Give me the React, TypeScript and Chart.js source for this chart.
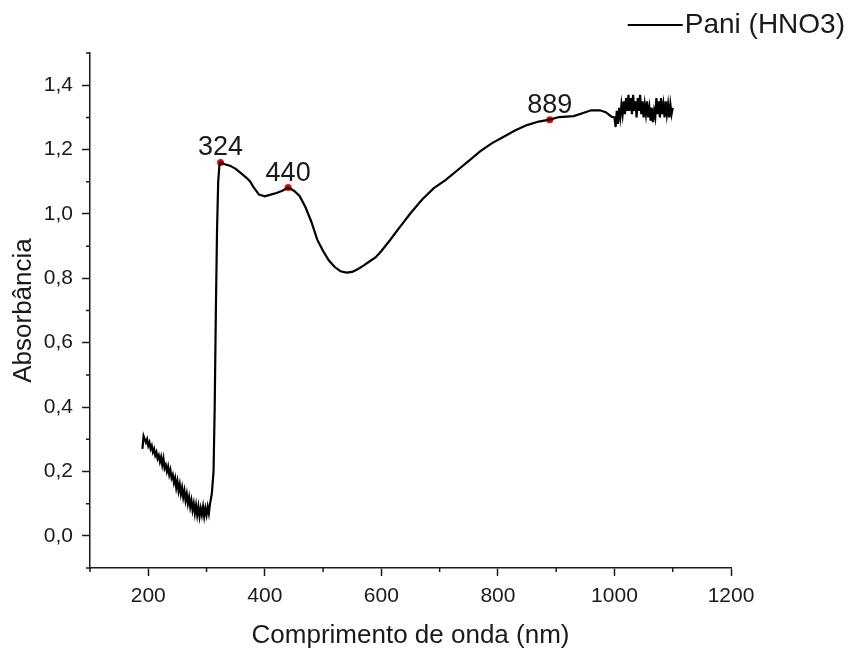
import React, { useEffect, useRef } from 'react';
import { Chart, registerables } from 'chart.js';

Chart.register(...registerables);

// ---- Data ----
const wavelengths = [
  190, 192, 194, 196, 198, 200, 202, 204, 206, 208, 210, 212, 214, 216, 218, 220, 222, 224, 226, 228,
  230, 232, 234, 236, 238, 240, 242, 244, 246, 248, 250, 252, 254, 256, 258, 260, 262, 264, 266, 268,
  270, 272, 274, 276, 278, 280, 282, 284, 286, 288, 290, 292, 294, 296, 298, 300, 302, 304, 306, 309,
  312, 314, 316, 318, 320, 322, 324, 330, 340, 350, 360, 370, 375, 380, 390, 400, 410, 420, 430, 440,
  450, 460, 470, 480, 490, 500, 510, 520, 530, 540, 550, 560, 570, 580, 590, 600, 615, 630, 650, 670,
  690, 710, 730, 750, 770, 790, 810, 830, 850, 870, 889, 905, 930, 945, 960, 975, 985, 995, 1000,
  1002, 1004, 1006, 1008, 1010, 1012, 1014, 1016, 1018, 1020, 1022, 1024, 1026, 1028, 1030, 1032, 1034,
  1036, 1038, 1040, 1042, 1044, 1046, 1048, 1050, 1052, 1054, 1056, 1058, 1060, 1062, 1064, 1066, 1068,
  1070, 1072, 1074, 1076, 1078, 1080, 1082, 1084, 1086, 1088, 1090, 1092, 1094, 1096, 1098, 1100,
];

const absorbance = [
  0.27, 0.31, 0.30, 0.29, 0.30, 0.28, 0.29, 0.27, 0.28, 0.26, 0.27, 0.25, 0.26, 0.24, 0.25, 0.23, 0.245, 0.22, 0.24, 0.21,
  0.22, 0.20, 0.215, 0.19, 0.205, 0.18, 0.19, 0.165, 0.18, 0.15, 0.17, 0.14, 0.16, 0.13, 0.15, 0.12, 0.14, 0.11, 0.13, 0.10,
  0.12, 0.09, 0.11, 0.08, 0.10, 0.07, 0.095, 0.065, 0.09, 0.06, 0.085, 0.065, 0.09, 0.06, 0.085, 0.065, 0.09, 0.07, 0.10, 0.13,
  0.20, 0.40, 0.70, 0.95, 1.10, 1.15, 1.16, 1.155, 1.15, 1.14, 1.125, 1.11, 1.10, 1.085, 1.06, 1.055, 1.06, 1.065, 1.072, 1.082,
  1.072, 1.055, 1.02, 0.975, 0.92, 0.885, 0.855, 0.835, 0.822, 0.818, 0.82, 0.829, 0.84, 0.853, 0.865, 0.885, 0.919, 0.955, 1.002, 1.045,
  1.08, 1.105, 1.135, 1.165, 1.195, 1.22, 1.24, 1.26, 1.276, 1.287, 1.293, 1.301, 1.304, 1.313, 1.322, 1.322, 1.316, 1.302, 1.30,
  1.27, 1.32, 1.28, 1.33, 1.30, 1.34, 1.31, 1.35, 1.31, 1.36, 1.32, 1.37, 1.32, 1.36, 1.31, 1.37, 1.32,
  1.35, 1.30, 1.36, 1.32, 1.37, 1.31, 1.35, 1.30, 1.34, 1.31, 1.35, 1.30, 1.33, 1.29, 1.33, 1.285, 1.32,
  1.30, 1.36, 1.31, 1.35, 1.30, 1.36, 1.31, 1.34, 1.30, 1.35, 1.31, 1.34, 1.30, 1.34, 1.31, 1.33,
];

const peakWavelengths = [324, 440, 889];
const peakAbsorbance = [1.16, 1.082, 1.293];
const peakLabels = ['324', '440', '889'];

const xTickValues = [200, 400, 600, 800, 1000, 1200];
const yTickValues = [0, 0.2, 0.4, 0.6, 0.8, 1.0, 1.2, 1.4];
const xMinorTickValues = [100, 300, 500, 700, 900, 1100];
const yMinorTickValues = [-0.1, 0.1, 0.3, 0.5, 0.7, 0.9, 1.1, 1.3, 1.5];

const seriesLabel = 'Pani (HNO3)';
const xTitle = 'Comprimento de onda (nm)';
const yTitle = 'Absorbância';

const FONT = '"Liberation Sans", Arial, Helvetica, sans-serif';
const INK = '#1a1a1a';

const overlayPlugin = {
  id: 'overlay',
  afterDraw(chart: any) {
    const ctx = chart.ctx;
    const xs = chart.scales.x;
    const ys = chart.scales.y;
    ctx.save();
    // minor ticks
    ctx.strokeStyle = INK;
    ctx.lineWidth = 1.5;
    ctx.beginPath();
    for (const v of yMinorTickValues) {
      const py = ys.getPixelForValue(v);
      ctx.moveTo(xs.left - 4, py);
      ctx.lineTo(xs.left, py);
    }
    for (const v of xMinorTickValues) {
      const px = xs.getPixelForValue(v);
      ctx.moveTo(px, ys.bottom);
      ctx.lineTo(px, ys.bottom + 4);
    }
    ctx.stroke();

    // peak labels
    const meta = chart.getDatasetMeta(1);
    ctx.fillStyle = INK;
    ctx.font = `27px ${FONT}`;
    ctx.textAlign = 'center';
    ctx.textBaseline = 'alphabetic';
    meta.data.forEach((pt: any, i: number) => {
      ctx.fillText(peakLabels[i], pt.x, pt.y - 7);
    });

    // legend
    ctx.font = `28px ${FONT}`;
    ctx.textAlign = 'right';
    ctx.textBaseline = 'middle';
    const textRight = chart.width - 6;
    const legendY = 25;
    ctx.fillText(seriesLabel, textRight, legendY);
    const tw = ctx.measureText(seriesLabel).width;
    const lineEnd = textRight - tw - 2;
    ctx.strokeStyle = '#000';
    ctx.lineWidth = 2;
    ctx.beginPath();
    ctx.moveTo(lineEnd - 55, legendY);
    ctx.lineTo(lineEnd, legendY);
    ctx.stroke();
    ctx.restore();
  },
};

export default function App() {
  const canvasRef = useRef<HTMLCanvasElement | null>(null);

  useEffect(() => {
    if (!canvasRef.current) return;
    const spectrum = wavelengths.map((w, i) => ({ x: w, y: absorbance[i] }));
    const peaks = peakWavelengths.map((w, i) => ({ x: w, y: peakAbsorbance[i] }));

    const chart = new Chart(canvasRef.current, {
      type: 'scatter',
      data: {
        datasets: [
          {
            label: seriesLabel,
            data: spectrum,
            showLine: true,
            borderColor: '#000',
            backgroundColor: '#000',
            borderWidth: 2.2,
            pointRadius: 0,
            tension: 0,
          },
          {
            label: 'peaks',
            data: peaks,
            pointRadius: 3.5,
            pointBackgroundColor: '#ff0000',
            pointBorderWidth: 0,
            showLine: false,
          },
        ],
      },
      options: {
        animation: false,
        responsive: true,
        maintainAspectRatio: false,
        layout: { padding: { top: 53, right: 120, bottom: 0, left: 0 } },
        plugins: {
          legend: { display: false },
          tooltip: { enabled: false },
        },
        scales: {
          x: {
            type: 'linear',
            min: 100,
            max: 1200,
            afterBuildTicks: (s: any) => {
              s.ticks = xTickValues.map((v) => ({ value: v }));
            },
            afterFit: (s: any) => {
              s.height = 86;
            },
            ticks: {
              font: { family: FONT, size: 21 },
              color: INK,
              padding: 8,
              maxRotation: 0,
              autoSkip: false,
              callback: (v: any) => String(v),
            },
            grid: {
              display: true,
              drawOnChartArea: false,
              drawTicks: true,
              tickLength: 8,
              tickColor: INK,
              tickWidth: 1.5,
            },
            border: { display: true, color: INK, width: 1.5 },
            title: {
              display: true,
              text: xTitle,
              color: INK,
              font: { family: FONT, size: 26 },
              padding: { top: 0, bottom: 3 },
            },
          },
          y: {
            type: 'linear',
            min: -0.1,
            max: 1.5,
            afterBuildTicks: (s: any) => {
              s.ticks = yTickValues.map((v) => ({ value: v }));
            },
            afterFit: (s: any) => {
              s.width = 90;
            },
            ticks: {
              font: { family: FONT, size: 21 },
              color: INK,
              padding: 9,
              callback: (v: any) => Number(v).toFixed(1).replace('.', ','),
            },
            grid: {
              display: true,
              drawOnChartArea: false,
              drawTicks: true,
              tickLength: 8,
              tickColor: INK,
              tickWidth: 1.5,
            },
            border: { display: true, color: INK, width: 1.5 },
            title: {
              display: true,
              text: yTitle,
              color: INK,
              font: { family: FONT, size: 26 },
              padding: { top: 8, bottom: 0 },
            },
          },
        },
      },
      plugins: [overlayPlugin],
    });
    return () => chart.destroy();
  }, []);

  return (
    <div style={{ position: 'fixed', left: 0, top: 0, width: 851, height: 654, background: '#fff' }}>
      <canvas ref={canvasRef} />
    </div>
  );
}
